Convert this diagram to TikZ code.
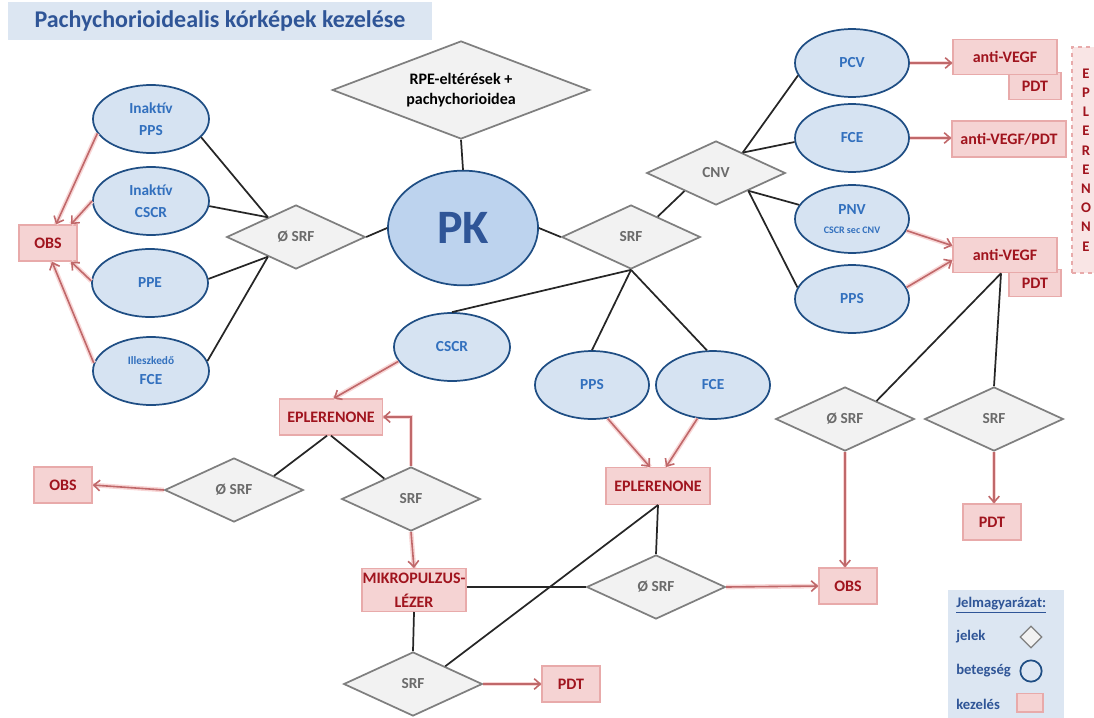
\documentclass[tikz,border=0pt]{standalone}
\usepackage{fontspec}
\setmainfont{Carlito}
\usetikzlibrary{arrows.meta, positioning, shapes.geometric, calc}
\definecolor{fejkek}{HTML}{DCE6F2}
\definecolor{sotetkek}{HTML}{2F5597}
\definecolor{betegfill}{HTML}{D6E3F2}
\definecolor{betegline}{HTML}{1F4E84}
\definecolor{betegtext}{HTML}{3270BE}
\definecolor{pkfill}{HTML}{BDD3EE}
\definecolor{jelfill}{HTML}{F2F2F2}
\definecolor{jelline}{HTML}{7F7F7F}
\definecolor{jeltext}{HTML}{6B6B6B}
\definecolor{kezfill}{HTML}{F5D3D3}
\definecolor{kezline}{HTML}{E8AAAA}
\definecolor{keztext}{HTML}{A0141E}
\definecolor{nyil}{HTML}{C0686A}
\definecolor{nyilglow}{HTML}{F8D6D6}
\definecolor{vonal}{HTML}{262626}

\tikzset{
  beteg/.style={ellipse, draw=betegline, line width=1.3pt, fill=betegfill, text=betegtext,
    font=\bfseries\fontsize{11.5}{16.5}\selectfont, align=center, inner sep=0pt,
    minimum width=87pt, minimum height=51pt},
  jel/.style={diamond, aspect=2.4, draw=jelline, line width=1.3pt, fill=jelfill, text=jeltext,
    font=\bfseries\fontsize{11.5}{13}\selectfont, inner sep=0pt,
    minimum width=104pt, minimum height=48pt},
  kez/.style={rectangle, draw=kezline, line width=1pt, fill=kezfill, text=keztext,
    font=\bfseries\fontsize{12}{14}\selectfont, align=center, inner sep=0pt,
    minimum width=78pt, minimum height=26.5pt},
  kis/.style={kez, minimum width=43.5pt, minimum height=27pt},
  kapcs/.style={draw=vonal, line width=1.3pt},
  nyilv/.style={draw=nyil, line width=1.2pt, -{Straight Barb[length=4.5pt,width=8pt]},
    preaction={draw=nyilglow, line width=3.5pt, -}},
  jelmagy/.style={text=sotetkek, font=\bfseries\fontsize{11}{13}\selectfont, inner sep=0pt},
}

\begin{document}
\begin{tikzpicture}[x=0.75pt, y=-0.75pt]
  \useasboundingbox (0,0) rectangle (1094,717);

  % Title
  \node[fill=fejkek, minimum width=318pt, minimum height=28.5pt, text=sotetkek,
        font=\bfseries\fontsize{18}{20}\selectfont] (cim) at (220,21)
    {Pachychorioidealis kórképek kezelése};

  % Center
  \node[jel, text=black, minimum width=193pt, minimum height=73.5pt, align=center,
        font=\bfseries\fontsize{12}{14.5}\selectfont] (rpe) at (461,90)
    {RPE-eltérések +\\pachychorioidea};
  \node[beteg, fill=pkfill, minimum width=112.5pt, minimum height=86pt, text=sotetkek,
        font=\bfseries\fontsize{36}{40}\selectfont] (pk) at (463,228) {PK};
  \node[jel] (srfL) at (296,237) {Ø SRF};
  \node[jel] (srfC) at (631,237) {SRF};
  \draw[kapcs] (rpe.south) -- (pk.north);
  \draw[kapcs] (srfL.east) -- (pk.west);
  \draw[kapcs] (pk.east) -- (srfC.west);

  % Left: no SRF
  \node[beteg] (ipps) at (151,119) {Inaktív\\PPS};
  \node[beteg] (icscr) at (151,201) {Inaktív\\CSCR};
  \node[beteg] (ppe) at (150,283) {PPE};
  \node[beteg, font=\bfseries\fontsize{11.5}{15}\selectfont] (ifce) at (151,371)
    {{\fontsize{8.5}{9}\selectfont Illeszkedő}\\FCE};
  \node[kis] (obsL) at (48,243) {OBS};
  \coordinate (srfLa) at ($(srfL.west)!0.6!(srfL.north)$);
  \coordinate (srfLb) at ($(srfL.west)!0.6!(srfL.south)$);
  \foreach \nev/\szog/\cel in {ipps/340/a, icscr/355/a, ppe/4/b, ifce/10/b}
    \draw[kapcs] (\nev.\szog) -- (srfL\cel);
  \draw[nyilv] (ipps.195) -- ([xshift=6pt]obsL.north);
  \draw[nyilv] (icscr.180) -- ([xshift=-5pt]obsL.north east);
  \draw[nyilv] (ppe.178) -- ([xshift=-5pt]obsL.south east);
  \draw[nyilv] (ifce.172) -- ([xshift=3pt]obsL.south);

  % Right: CNV
  \node[jel] (cnv) at (716,173) {CNV};
  \draw[kapcs] ($(srfC.north)!0.38!(srfC.east)$) -- ($(cnv.west)!0.55!(cnv.south)$);
  \coordinate (cnvA) at ($(cnv.north)!0.38!(cnv.east)$);
  \coordinate (cnvB) at ($(cnv.east)!0.54!(cnv.south)$);
  \node[beteg, minimum width=85.5pt] (pcv) at (852,63) {PCV};
  \node[beteg, minimum width=85.5pt] (fceR) at (852,138) {FCE};
  \node[beteg, minimum width=85.5pt, font=\bfseries\fontsize{11.5}{14}\selectfont] (pnv) at (852,219)
    {PNV\\{\fontsize{7.5}{8}\selectfont CSCR sec CNV}};
  \node[beteg, minimum width=85.5pt] (ppsR) at (852,299) {PPS};
  \draw[kapcs] (cnvA) -- (pcv.193);
  \draw[kapcs] (cnvA) -- (fceR.184);
  \draw[kapcs] (cnvB) -- (pnv.165);
  \draw[kapcs] (cnvB) -- (ppsR.168);

  \node[kis, minimum width=39pt, minimum height=20pt] (pdt1) at (1035,86) {PDT};
  \node[kez] (avegf1) at (1005,57) {anti-VEGF};
  \node[kez, minimum width=85.5pt, minimum height=27pt] (avpdt) at (1009,139) {anti-VEGF/PDT};
  \node[kis, minimum width=39pt, minimum height=20pt] (pdt2) at (1035,283) {PDT};
  \node[kez] (avegf2) at (1005,255) {anti-VEGF};
  \draw[nyilv] (pcv.east) -- (avegf1.west |- pcv.east);
  \draw[nyilv] (fceR.east) -- (avpdt.west |- fceR.east);
  \draw[nyilv] (pnv.-12) -- ([yshift=7pt]avegf2.west);
  \draw[nyilv] (ppsR.12) -- ([yshift=-4pt]avegf2.west);
  \node[kez, fill=kezfill!60, dashed, minimum width=21pt, minimum height=169.5pt,
        font=\bfseries\fontsize{11}{14.4}\selectfont] (eplV) at (1086,160)
    {E\\P\\L\\E\\R\\E\\N\\O\\N\\E};

  % Right: below anti-VEGF
  \node[jel] (nosrfR) at (845,419) {Ø SRF};
  \node[jel] (srfR) at (994,419) {SRF};
  \node[kis] (pdtR) at (992,522) {PDT};
  \node[kis] (obsC) at (848,586) {OBS};
  \coordinate (avb) at ([xshift=-3pt]avegf2.south);
  \draw[kapcs] (avb) -- ($(nosrfR.north)!0.45!(nosrfR.east)$);
  \draw[kapcs] (avb) -- (srfR.north);
  \draw[nyilv] (nosrfR.south) -- (nosrfR.south |- obsC.north);
  \draw[nyilv] (srfR.south) -- (srfR.south |- pdtR.north);

  % Bottom: SRF branch
  \node[beteg] (cscr) at (452,347) {CSCR};
  \node[beteg, minimum width=85.5pt] (ppsC) at (592,385) {PPS};
  \node[beteg, minimum width=85.5pt] (fceC) at (713,385) {FCE};
  \draw[kapcs] (srfC.south) -- (cscr.north);
  \draw[kapcs] (srfC.south) -- (ppsC.north);
  \draw[kapcs] (srfC.south) -- (fceC.100);

  \node[kez, minimum width=77pt, minimum height=27pt] (eplL) at (331,417) {EPLERENONE};
  \node[kez, minimum height=27.5pt] (eplC) at (658,486) {EPLERENONE};
  \node[kis] (obsB) at (63,485) {OBS};
  \node[jel] (nosrfB) at (234,490) {Ø SRF};
  \node[jel] (srfM) at (411,499) {SRF};
  \node[kez, minimum height=32pt, font=\bfseries\fontsize{12}{18}\selectfont] (mikro) at (414,590)
    {MIKROPULZUS-\\LÉZER};
  \node[jel] (nosrfC) at (656,587) {Ø SRF};
  \node[jel] (srfB) at (413,684) {SRF};
  \node[kis] (pdtB) at (571,684) {PDT};

  \draw[nyilv] (cscr.195) -- ([xshift=2pt]eplL.north);
  \draw[nyilv] (srfM.north) |- (eplL.east);
  \draw[kapcs] ([xshift=-3pt]eplL.south) -- ($(nosrfB.north)!0.57!(nosrfB.east)$);
  \draw[kapcs] (eplL.south) -- ($(srfM.west)!0.62!(srfM.north)$);
  \draw[nyilv] (nosrfB.west) -- (obsB.east);
  \draw[nyilv] (srfM.south) -- (mikro.north);
  \draw[kapcs] (mikro.south) -- (srfB.north);
  \draw[kapcs] (nosrfC.west) -- (nosrfC.west -| mikro.east);
  \draw[kapcs] ($(srfB.north)!0.46!(srfB.east)$) -- (eplC.south);
  \draw[kapcs] (eplC.south) -- (nosrfC.north);
  \draw[nyilv] (ppsC.-65) -- ([xshift=-6pt]eplC.north);
  \draw[nyilv] (fceC.-115) -- ([xshift=6pt]eplC.north);
  \draw[nyilv] (nosrfC.east) -- (obsC.west);
  \draw[nyilv] (srfB.east) -- (pdtB.west);

  % Legend
  \fill[fejkek] (948,590) rectangle (1064,720);
  \node[jelmagy, anchor=west] (lcim) at (956,605) {\underline{Jelmagyarázat:}};
  \node[jelmagy, anchor=west] (ljel) at (956,637) {jelek};
  \node[jelmagy, anchor=west] (lbet) at (956,671) {betegség};
  \node[jelmagy, anchor=west] (lkez) at (956,704) {kezelés};
  \node[jel, aspect=1, line width=1pt, minimum width=16.5pt, minimum height=16.5pt] (ljelk) at (1031,637) {};
  \node[circle, draw=betegline, line width=1.3pt, minimum size=16pt, inner sep=0pt] (lbetk) at (1031,671) {};
  \node[kez, minimum width=19.5pt, minimum height=14pt] (lkezk) at (1030,702.5) {};
\end{tikzpicture}
\end{document}
